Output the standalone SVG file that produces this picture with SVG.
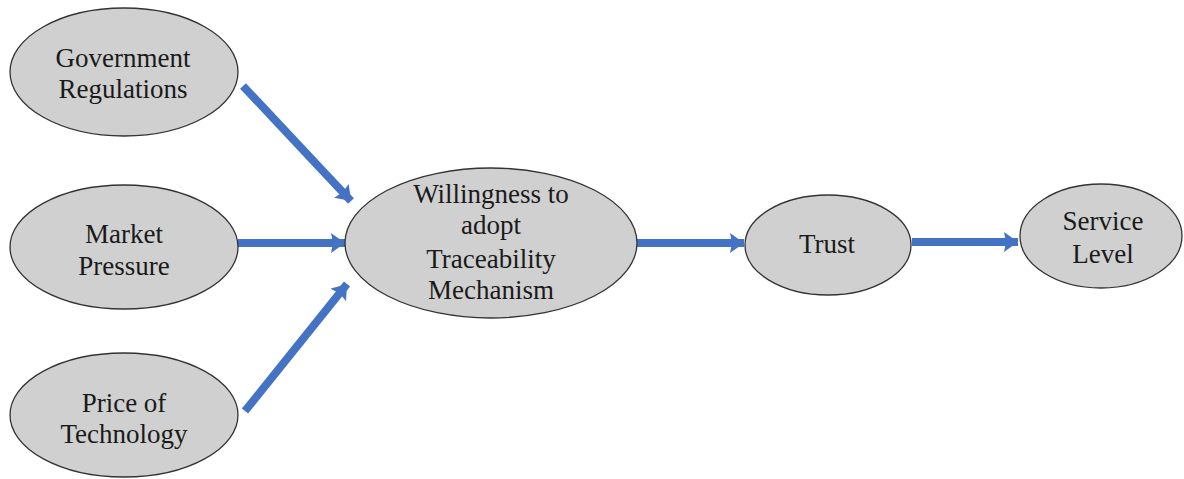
<svg xmlns="http://www.w3.org/2000/svg" width="1184" height="479" viewBox="0 0 1184 479">
<style>
.node ellipse{fill:#d0d0d0;stroke:#333;stroke-width:1.3}
.node text{font-family:'Liberation Serif','Times New Roman','DejaVu Serif',serif;font-size:27px;fill:#1a1a1a;text-anchor:middle}
.conn line{stroke:#4472c4;stroke-width:8;marker-end:url(#ah)}
</style>
<defs>
<marker id="ah" markerUnits="userSpaceOnUse" markerWidth="16" markerHeight="20" refX="14" refY="10" orient="auto">
<path d="M0,0 L14,10 L0,20 L2,10 Z" fill="#4472c4"/>
</marker>
</defs>
<rect width="1184" height="479" fill="#fff"/>
<g class="conn">
<line x1="243" y1="86" x2="351" y2="201"/>
<line x1="238" y1="243" x2="345" y2="243"/>
<line x1="245" y1="411" x2="347" y2="284"/>
<line x1="637" y1="243" x2="744" y2="243"/>
<line x1="912" y1="242" x2="1018" y2="242"/>
</g>
<g class="node" id="gov">
<ellipse cx="124" cy="72" rx="114" ry="64"/>
<text x="123" y="67" font-family="Liberation Serif, serif">Government</text>
<text x="123" y="98" font-family="Liberation Serif, serif">Regulations</text>
</g>
<g class="node" id="market">
<ellipse cx="124" cy="247" rx="114" ry="62"/>
<text x="124" y="243">Market</text>
<text x="124" y="275">Pressure</text>
</g>
<g class="node" id="price">
<ellipse cx="124" cy="415" rx="114" ry="62"/>
<text x="124" y="412">Price of</text>
<text x="124" y="443">Technology</text>
</g>
<g class="node" id="willing">
<ellipse cx="491" cy="243" rx="146" ry="75"/>
<text x="491" y="203">Willingness to</text>
<text x="491" y="234">adopt</text>
<text x="491" y="268">Traceability</text>
<text x="491" y="299">Mechanism</text>
</g>
<g class="node" id="trust">
<ellipse cx="828" cy="245" rx="83" ry="50"/>
<text x="827" y="253">Trust</text>
</g>
<g class="node" id="service">
<ellipse cx="1101" cy="236" rx="81" ry="52"/>
<text x="1103" y="230">Service</text>
<text x="1103" y="263">Level</text>
</g>
</svg>
